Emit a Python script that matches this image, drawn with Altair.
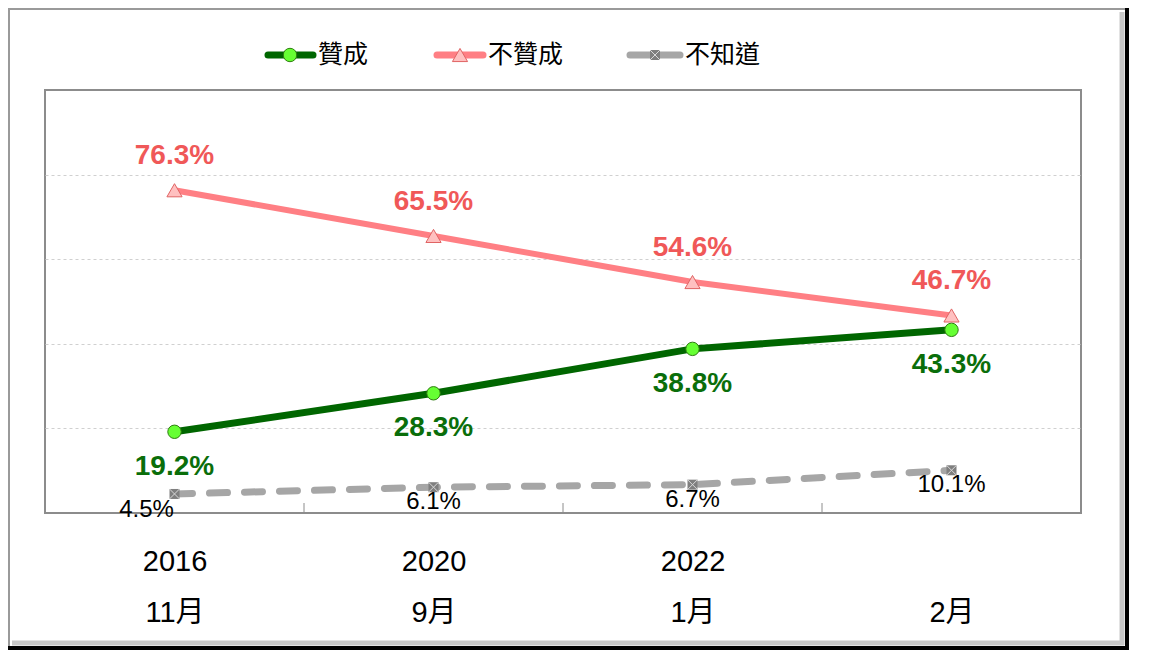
import altair as alt
import pandas as pd

categories = ["2016|11月", "2020|9月", "2022|1月", "|2月"]
approve = [19.2, 28.3, 38.8, 43.3]
disapprove = [76.3, 65.5, 54.6, 46.7]
unknown = [4.5, 6.1, 6.7, 10.1]
series_names = ["贊成", "不贊成", "不知道"]

W, H = 1036, 423
STEP = W / len(categories)
LATIN = "'Liberation Sans', 'Noto Sans CJK TC', sans-serif"
CJK = "'Noto Sans CJK TC', sans-serif"


def frame(vals):
    return pd.DataFrame({"cat": categories, "value": vals,
                         "label": [f"{v:.1f}%" for v in vals]})


df_a = frame(approve)
df_d = frame(disapprove)
df_u = frame(unknown)

X = alt.X("cat:N", sort=categories,
          scale=alt.Scale(type="point", padding=0.5, domain=categories),
          axis=alt.Axis(title=None, labelExpr="split(datum.label, '|')",
                        ticks=False, domain=False, grid=False, labelAngle=0,
                        labelFontSize=29, labelFont=LATIN, labelColor="#000000",
                        labelLineHeight=51, labelPadding=34, labelBaseline="top"))
Y = alt.Y("value:Q", scale=alt.Scale(domain=[0, 100]),
          axis=alt.Axis(title=None, values=[20, 40, 60, 80], labels=False,
                        ticks=False, domain=False, grid=True,
                        gridColor="#D0D0D0", gridDash=[3, 3], gridWidth=1))


def enc(ch):
    return ch.encode(x=X, y=Y)


layers = []

# ticks at band boundaries (inside bottom)
tick_df = pd.DataFrame({"cat": categories[1:]})
layers.append(alt.Chart(tick_df).mark_rule(color="#8C8C8C", strokeWidth=1, xOffset=-STEP / 2)
              .encode(x=X, y=alt.value(H - 10), y2=alt.value(H)))

# lines
layers.append(enc(alt.Chart(df_u).mark_line(color="#A6A6A6", strokeWidth=7,
                                            strokeDash=[18, 17], strokeCap="round")))
layers.append(enc(alt.Chart(df_d).mark_line(color="#FF7F84", strokeWidth=6)))
layers.append(enc(alt.Chart(df_a).mark_line(color="#006600", strokeWidth=7)))

# markers
layers.append(enc(alt.Chart(df_u).mark_point(shape="square", size=100, filled=True,
                                             color="#7F7F7F", opacity=1)))
layers.append(enc(alt.Chart(df_u).mark_point(shape="M-1,-1L1,1M-1,1L1,-1", size=100,
                                             color="#D9D9D9", strokeWidth=1, opacity=1)))
layers.append(enc(alt.Chart(df_d).mark_point(shape="triangle-up", size=230, filled=True,
                                             fill="#FFC0C0", stroke="#E06464",
                                             strokeWidth=1, opacity=1)))
layers.append(enc(alt.Chart(df_a).mark_point(shape="circle", size=180, filled=True,
                                             fill="#66FF33", stroke="#2E7D10",
                                             strokeWidth=1, opacity=1)))

# labels
layers.append(alt.Chart(df_d).mark_text(font=LATIN, fontSize=28, fontWeight="bold",
                                        color="#F05858", dy=-34, baseline="middle")
              .encode(x=X, y=Y, text="label:N"))
layers.append(alt.Chart(df_a).mark_text(font=LATIN, fontSize=28, fontWeight="bold",
                                        color="#0A6E0A", dy=35, baseline="middle")
              .encode(x=X, y=Y, text="label:N"))
layers.append(alt.Chart(df_u.iloc[1:]).mark_text(font=LATIN, fontSize=24, color="#000000",
                                                 dy=15, baseline="middle")
              .encode(x=X, y=Y, text="label:N"))
layers.append(alt.Chart(df_u.iloc[:1]).mark_text(font=LATIN, fontSize=24, color="#000000",
                                                 dy=16, dx=-28, baseline="middle")
              .encode(x=X, y=Y, text="label:N"))

# legend (decoration)
leg_y = -35
legend_specs = [
    (series_names[0], 223, 268, 245, dict(shape="circle", size=180, filled=True, fill="#66FF33",
                                          stroke="#2E7D10", strokeWidth=1, opacity=1),
     dict(color="#006600", strokeWidth=7)),
    (series_names[1], 392, 438, 415, dict(shape="triangle-up", size=230, filled=True, fill="#FFC0C0",
                                          stroke="#E06464", strokeWidth=1, opacity=1),
     dict(color="#FF7F84", strokeWidth=7)),
    (series_names[2], 585, 635, 610, dict(shape="square", size=100, filled=True, color="#7F7F7F",
                                          opacity=1),
     dict(color="#A6A6A6", strokeWidth=7)),
]
leg_df = pd.DataFrame({"name": series_names})
for i, (name, x1, x2, xm, pt, ln) in enumerate(legend_specs):
    one = leg_df.iloc[i:i + 1]
    layers.append(alt.Chart(one).mark_rule(strokeCap="round", **ln)
                  .encode(x=alt.value(x1), x2=alt.value(x2), y=alt.value(leg_y)))
    layers.append(alt.Chart(one).mark_point(**pt)
                  .encode(x=alt.value(xm), y=alt.value(leg_y)))
    if i == 2:
        layers.append(alt.Chart(one).mark_point(shape="M-1,-1L1,1M-1,1L1,-1", size=100,
                                                color="#D9D9D9", strokeWidth=1, opacity=1)
                      .encode(x=alt.value(xm), y=alt.value(leg_y)))
    layers.append(alt.Chart(one).mark_text(font=CJK, fontSize=25, fontWeight="normal",
                                           color="#000000", align="left", baseline="middle")
                  .encode(x=alt.value(x2 + 5), y=alt.value(leg_y), text="name:N"))

# outer frame (decoration)
fr = pd.DataFrame({"k": [0]})
L, T = -37, -82
R, B = 1119 - 37, 558
layers.append(alt.Chart(fr).mark_rect(fill=None, stroke="#9A9A9A", strokeWidth=2)
              .encode(x=alt.value(L + 1), x2=alt.value(R), y=alt.value(T + 1), y2=alt.value(B)))
layers.append(alt.Chart(fr).mark_rule(color="#C8C8C8", strokeWidth=5)
              .encode(x=alt.value(R - 5), y=alt.value(T + 4), y2=alt.value(B - 3)))
layers.append(alt.Chart(fr).mark_rule(color="#C8C8C8", strokeWidth=5)
              .encode(x=alt.value(L + 4), x2=alt.value(R - 3), y=alt.value(B - 5)))
layers.append(alt.Chart(fr).mark_rule(color="#000000", strokeWidth=4)
              .encode(x=alt.value(R), y=alt.value(T), y2=alt.value(B + 2)))
layers.append(alt.Chart(fr).mark_rule(color="#000000", strokeWidth=4)
              .encode(x=alt.value(L), x2=alt.value(R + 2), y=alt.value(B)))

chart = alt.layer(*layers).properties(
    width=W, height=H,
    autosize=alt.AutoSizeParams(type="none"),
    padding={"left": 37, "top": 82, "right": 63, "bottom": 139},
    background="white",
).configure_view(stroke="#8C8C8C", strokeWidth=2)

chart.save("out.html", embed_options={"renderer": "svg", "actions": False})
